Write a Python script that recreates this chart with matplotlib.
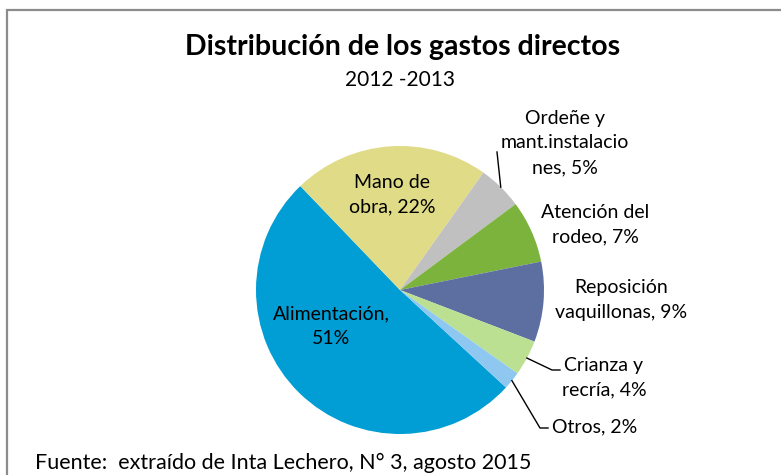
import numpy as np
import matplotlib
matplotlib.use("Agg")
import matplotlib.pyplot as plt
from matplotlib.patches import Rectangle

plt.rcParams['font.family'] = ['Lato', 'DejaVu Sans']

# ---- data ----
categories = ["Alimentación", "Mano de obra", "Ordeñe y mant.instalaciones",
              "Atención del rodeo", "Reposición vaquillonas", "Crianza y recría", "Otros"]
values = [51, 22, 5, 7, 9, 4, 2]
label_texts = ["Alimentación,\n51%", "Mano de\nobra, 22%", "Ordeñe y\nmant.instalacio\nnes, 5%",
               "Atención del\nrodeo, 7%", "Reposición\nvaquillonas, 9%", "Crianza y\nrecría, 4%",
               "Otros, 2%"]
colors = ["#019ed5", "#e0db86", "#c0c0c0", "#7bb33c", "#5d6ea1", "#bce092", "#8ec8f0"]

title = "Distribución de los gastos directos"
subtitle = "2012 -2013"
footnote = "Fuente:  extraído de Inta Lechero, N° 3, agosto 2015"

W, H = 781, 475
fig = plt.figure(figsize=(W / 100, H / 100), dpi=100)
ax = fig.add_axes([0, 0, 1, 1])

cx, cy, R = 400, H - 290, 144
start = -42.6  # degrees (math convention), clockwise drawing

wedges, _ = ax.pie(values, colors=colors, startangle=start, counterclock=False,
                   center=(cx, cy), radius=R, wedgeprops=dict(linewidth=0))
ax.set_xlim(0, W)
ax.set_ylim(0, H)
ax.set_aspect('equal')
ax.axis('off')

def py(y):
    return H - y

# label positions (pixel coords, y from top)
label_pos = [(331, 326), (392, 195), (565, 143), (595, 225), (621, 300), (604, 378), (595, 427)]
fs = 14
for i, (txt, (x, y)) in enumerate(zip(label_texts, label_pos)):
    ax.text(x, py(y), txt, ha='center', va='center', fontsize=fs, color='black',
            linespacing=1.55)

# leader lines from wedge edge midpoints
def edge_point(i):
    w = wedges[i]
    mid = np.deg2rad((w.theta1 + w.theta2) / 2)
    return cx + R * np.cos(mid), cy + R * np.sin(mid)

leaders = {2: [(497, 152)], 5: [(552, 370), (560, 370)], 6: [(540, 428), (548, 428)]}
for i, pts in leaders.items():
    x0, y0 = edge_point(i)
    xs = [x0] + [p[0] for p in pts]
    ys = [y0] + [py(p[1]) for p in pts]
    ax.plot(xs, ys, color='black', lw=1)

# titles
ax.text(403, py(47), title, ha='center', va='center', fontsize=20.5, fontweight='bold')
ax.text(400, py(80), subtitle, ha='center', va='center', fontsize=15)
ax.text(35, py(463), footnote, ha='left', va='center', fontsize=15.5)

# chart border (extends beyond right/bottom)
ax.add_patch(Rectangle((7, py(10) - 600), 900, 600, fill=False, edgecolor='#8c8c8c', lw=1.6,
                       clip_on=False))

fig.savefig("out.png", dpi=100, facecolor='white')
